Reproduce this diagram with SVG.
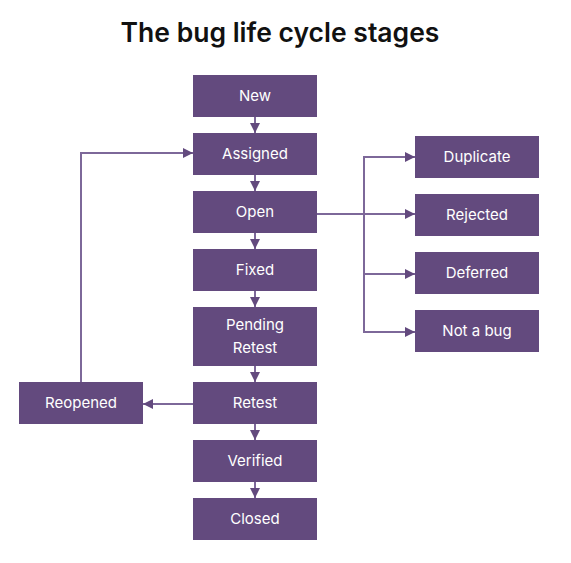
<svg xmlns="http://www.w3.org/2000/svg" width="571" height="563" viewBox="0 0 571 563">
<style>
.box{fill:#634a7e}
.lbl{fill:#ffffff;font-family:Inter,"Liberation Sans",sans-serif;font-size:15px;text-anchor:middle;dominant-baseline:central}
.ln{stroke:#7d6899;stroke-width:2;fill:none}
.title{font-family:Inter,"Liberation Sans",sans-serif;font-size:26.5px;font-weight:600;fill:#111111;text-anchor:middle}
</style>
<defs>
<marker id="ah" viewBox="0 0 10 10" refX="10" refY="5" markerWidth="5" markerHeight="5" orient="auto" markerUnits="strokeWidth">
<path d="M0,0 L10,5 L0,10 z" fill="#634a7e"/>
</marker>
</defs>
<rect width="571" height="563" fill="#ffffff"/>
<text class="title" x="280" y="42">The bug life cycle stages</text>
<g id="connectors">
<line class="ln" x1="255" y1="117" x2="255" y2="133" marker-end="url(#ah)"/>
<line class="ln" x1="255" y1="175" x2="255" y2="191" marker-end="url(#ah)"/>
<line class="ln" x1="255" y1="233" x2="255" y2="249" marker-end="url(#ah)"/>
<line class="ln" x1="255" y1="291" x2="255" y2="307" marker-end="url(#ah)"/>
<line class="ln" x1="255" y1="366" x2="255" y2="382" marker-end="url(#ah)"/>
<line class="ln" x1="255" y1="424" x2="255" y2="440" marker-end="url(#ah)"/>
<line class="ln" x1="255" y1="482" x2="255" y2="498" marker-end="url(#ah)"/>
<line class="ln" x1="317" y1="214" x2="415" y2="214" marker-end="url(#ah)"/>
<polyline class="ln" points="415,157 364,157 364,332 415,332" marker-end="url(#ah)"/>
<line class="ln" x1="364" y1="157" x2="415" y2="157" marker-end="url(#ah)"/>
<line class="ln" x1="364" y1="274" x2="415" y2="274" marker-end="url(#ah)"/>
<line class="ln" x1="193" y1="404" x2="143" y2="404" marker-end="url(#ah)"/>
<polyline class="ln" points="81,382 81,153 193,153" marker-end="url(#ah)"/>
</g>
<g id="n-new"><rect class="box" x="193" y="75" width="124" height="42"/><text class="lbl" x="255" y="95">New</text></g>
<g id="n-assigned"><rect class="box" x="193" y="133" width="124" height="42"/><text class="lbl" x="255" y="153">Assigned</text></g>
<g id="n-open"><rect class="box" x="193" y="191" width="124" height="42"/><text class="lbl" x="255" y="211">Open</text></g>
<g id="n-fixed"><rect class="box" x="193" y="249" width="124" height="42"/><text class="lbl" x="255" y="269">Fixed</text></g>
<g id="n-pending"><rect class="box" x="193" y="307" width="124" height="59"/><text class="lbl" x="255" y="324">Pending</text><text class="lbl" x="255" y="347">Retest</text></g>
<g id="n-retest"><rect class="box" x="193" y="382" width="124" height="42"/><text class="lbl" x="255" y="402">Retest</text></g>
<g id="n-verified"><rect class="box" x="193" y="440" width="124" height="42"/><text class="lbl" x="255" y="460">Verified</text></g>
<g id="n-closed"><rect class="box" x="193" y="498" width="124" height="42"/><text class="lbl" x="255" y="518">Closed</text></g>
<g id="n-reopened"><rect class="box" x="19" y="382" width="124" height="42"/><text class="lbl" x="81" y="402">Reopened</text></g>
<g id="n-duplicate"><rect class="box" x="415" y="136" width="124" height="42"/><text class="lbl" x="477" y="156">Duplicate</text></g>
<g id="n-rejected"><rect class="box" x="415" y="194" width="124" height="42"/><text class="lbl" x="477" y="214">Rejected</text></g>
<g id="n-deferred"><rect class="box" x="415" y="252" width="124" height="42"/><text class="lbl" x="477" y="272">Deferred</text></g>
<g id="n-notabug"><rect class="box" x="415" y="310" width="124" height="42"/><text class="lbl" x="477" y="330">Not a bug</text></g>
</svg>
